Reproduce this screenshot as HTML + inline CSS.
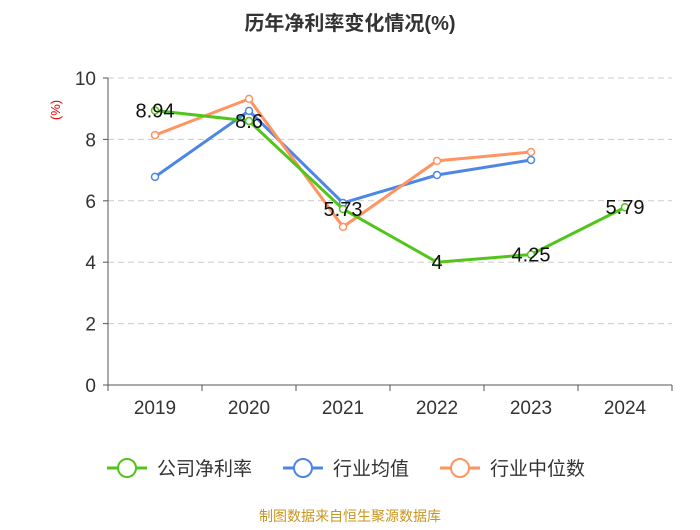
<!DOCTYPE html>
<html><head><meta charset="utf-8"><style>
body{margin:0;background:#fff;font-family:"Liberation Sans","Noto Sans CJK SC",sans-serif;}
svg text{font-family:"Liberation Sans","Noto Sans CJK SC",sans-serif;}
</style></head><body>
<svg id="chart" width="700" height="525">
<text x="350" y="30" text-anchor="middle" font-size="20" font-weight="bold" fill="#333">历年净利率变化情况(%)</text>
<text x="60" y="110" text-anchor="middle" font-size="13" fill="#e00" transform="rotate(-90 60 110)">(%)</text>
<g id="grid"></g><g id="axes"></g><g id="series"></g>
<g>
<g><line x1="107" y1="468" x2="147" y2="468" stroke="#52c41a" stroke-width="3"/><circle cx="127" cy="468" r="9" fill="#fff" stroke="#52c41a" stroke-width="2"/><text x="157" y="475" font-size="19" fill="#333">公司净利率</text></g>
<g><line x1="283" y1="468" x2="323" y2="468" stroke="#4e86e6" stroke-width="3"/><circle cx="303" cy="468" r="9" fill="#fff" stroke="#4e86e6" stroke-width="2"/><text x="333" y="475" font-size="19" fill="#333">行业均值</text></g>
<g><line x1="440" y1="468" x2="480" y2="468" stroke="#ff9460" stroke-width="3"/><circle cx="460" cy="468" r="9" fill="#fff" stroke="#ff9460" stroke-width="2"/><text x="490" y="475" font-size="19" fill="#333">行业中位数</text></g>
</g>
<text x="350" y="521" text-anchor="middle" font-size="14" fill="#c8961e">制图数据来自恒生聚源数据库</text>
</svg>
<script>
const categories=["2019","2020","2021","2022","2023","2024"];
const company=[8.94,8.6,5.73,4,4.25,5.79];
const companyLabels=["8.94","8.6","5.73","4","4.25","5.79"];
const industryAvg=[6.78,8.93,5.93,6.84,7.33];
const industryMedian=[8.14,9.32,5.15,7.3,7.59];
const yTicks=[0,2,4,6,8,10];
const NS="http://www.w3.org/2000/svg";
const L=108,R=672,T=78,B=385;
const bw=(R-L)/categories.length;
const x=i=>L+bw*(i+0.5);
const y=v=>B-(v/10)*(B-T);
function mk(tag,attrs,parent,txt){const e=document.createElementNS(NS,tag);for(const k in attrs)e.setAttribute(k,attrs[k]);if(txt!==undefined)e.textContent=txt;parent.appendChild(e);return e;}
const grid=document.getElementById('grid'),axes=document.getElementById('axes'),ser=document.getElementById('series');
yTicks.forEach(t=>{
 if(t>0){const g=mk('line',{x1:L,x2:R,y1:y(t),y2:y(t),stroke:'#ccc','stroke-dasharray':'6 4'},grid);
 
 }
 const tl=mk('text',{x:L-12,y:y(t)+7,'text-anchor':'end','font-size':'19',fill:'#333'},axes,String(t));
 
 
 mk('line',{x1:L-5,x2:L,y1:y(t),y2:y(t),stroke:'#555'},axes);
});
const ya=mk('line',{x1:L,x2:L,y1:T,y2:B,stroke:'#555'},axes);


const xa=mk('line',{x1:L,x2:R,y1:B,y2:B,stroke:'#555'},axes);


for(let i=0;i<=categories.length;i++)mk('line',{x1:L+bw*i,x2:L+bw*i,y1:B,y2:B+6,stroke:'#555'},axes);
categories.forEach((c,i)=>{const t=mk('text',{x:x(i),y:B+29,'text-anchor':'middle','font-size':'19',fill:'#333'},axes,c);
 
 });
function draw(vals,color,name,labels){
 const g=mk('g',{},ser);
 
 
 mk('polyline',{points:vals.map((v,i)=>x(i)+','+y(v)).join(' '),fill:'none',stroke:color,'stroke-width':3},g);
 vals.forEach((v,i)=>{const p=mk('circle',{cx:x(i),cy:y(v),r:3.5,fill:'#fff',stroke:color,'stroke-width':1.5},g);
  
  });
 if(labels)vals.forEach((v,i)=>{const t=mk('text',{x:x(i),y:y(v)+7,'text-anchor':'middle','font-size':'20',fill:'#111'},g,labels[i]);
  
  });
}
draw(industryAvg,'#4e86e6','industry-avg-line');
draw(industryMedian,'#ff9460','industry-median-line');
draw(company,'#52c41a','company-line',companyLabels);
</script>
</body></html>
